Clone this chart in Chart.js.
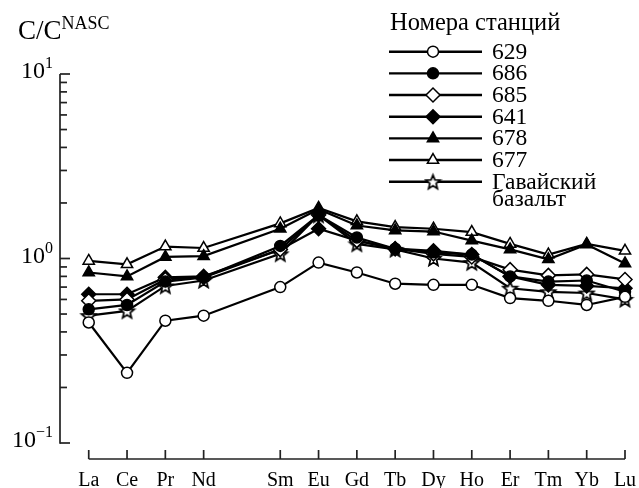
<!DOCTYPE html>
<html>
<head>
<meta charset="utf-8">
<script src="https://cdn.jsdelivr.net/npm/chart.js@4/dist/chart.umd.min.js"></script>
<style>
  html, body { margin: 0; padding: 0; background: #fff; }
  canvas { display: block; }
</style>
</head>
<body>
<canvas id="ree" width="639" height="488"></canvas>
<script>
// REE by atomic number; Pm (61) has no data and no tick
const elements = ['La', 'Ce', 'Pr', 'Nd', 'Sm', 'Eu', 'Gd', 'Tb', 'Dy', 'Ho', 'Er', 'Tm', 'Yb', 'Lu'];
const atomicNumbers = [57, 58, 59, 60, 62, 63, 64, 65, 66, 67, 68, 69, 70, 71];
const yMajorTicks = [0.1, 1, 10];
const yExponents = ['\u22121', '0', '1'];

// NASC-normalised concentrations per station
const st629 = [0.45, 0.24, 0.46, 0.49, 0.70, 0.95, 0.84, 0.73, 0.72, 0.72, 0.61, 0.59, 0.56, 0.62];
const st686 = [0.53, 0.56, 0.75, 0.79, 1.17, 1.72, 1.30, 1.13, 1.08, 1.05, 0.80, 0.75, 0.76, 0.66];
const st685 = [0.59, 0.60, 0.77, 0.79, 1.12, 1.72, 1.25, 1.13, 1.06, 1.02, 0.87, 0.81, 0.82, 0.77];
const st641 = [0.64, 0.64, 0.79, 0.80, 1.12, 1.45, 1.25, 1.13, 1.10, 1.05, 0.80, 0.72, 0.71, 0.69];
const st678 = [0.84, 0.80, 1.02, 1.03, 1.45, 1.85, 1.51, 1.42, 1.40, 1.25, 1.12, 0.99, 1.19, 0.94];
const st677 = [0.97, 0.93, 1.16, 1.14, 1.55, 1.88, 1.59, 1.48, 1.45, 1.39, 1.20, 1.05, 1.20, 1.10];
const hawaiiBasalt = [0.49, 0.52, 0.71, 0.76, 1.06, 1.72, 1.20, 1.12, 1.00, 0.95, 0.69, 0.66, 0.65, 0.60];

const seriesNames = ['629', '686', '685', '641', '678', '677', 'Гавайский\nбазальт'];
const seriesValues = [st629, st686, st685, st641, st678, st677, hawaiiBasalt];

const SERIF = '"Liberation Serif", "Times New Roman", serif';

// open five-pointed star marker
function makeStar(r, inner) {
  const s = Math.ceil(r * 2 + 4);
  const c = document.createElement('canvas');
  c.width = s; c.height = s;
  const g = c.getContext('2d');
  g.translate(s / 2, s / 2 + 0.8);
  g.beginPath();
  for (let i = 0; i < 10; i++) {
    const rad = i % 2 ? inner : r;
    const a = -Math.PI / 2 + i * Math.PI / 5;
    g.lineTo(rad * Math.cos(a), rad * Math.sin(a));
  }
  g.closePath();
  g.fillStyle = '#fff';
  g.fill();
  g.lineWidth = 1.7;
  g.strokeStyle = '#000';
  g.stroke();
  return c;
}
const starMarker = makeStar(7.5, 3.3);

const markerStyles = [
  { pointStyle: 'circle', fill: '#fff', radius: 5.5 },
  { pointStyle: 'circle', fill: '#000', radius: 5.5 },
  { pointStyle: 'rectRot', fill: '#fff', radius: 7 },
  { pointStyle: 'rectRot', fill: '#000', radius: 7 },
  { pointStyle: 'triangle', fill: '#000', radius: 6.5 },
  { pointStyle: 'triangle', fill: '#fff', radius: 6.5 },
  { pointStyle: starMarker, fill: '#fff', radius: 7.5 }
];

const datasets = seriesValues.map((vals, i) => ({
  label: seriesNames[i],
  data: atomicNumbers.map((z, j) => ({ x: z, y: vals[j] })),
  borderColor: '#000',
  borderWidth: 2.2,
  tension: 0,
  pointStyle: markerStyles[i].pointStyle,
  pointRadius: markerStyles[i].radius,
  pointBackgroundColor: markerStyles[i].fill,
  pointBorderColor: '#000',
  pointBorderWidth: 1.5,
  clip: false
}));

function drawSup(ctx, base, sup, x, baseline, baseSize, supSize, rise, align) {
  ctx.font = baseSize + 'px ' + SERIF;
  const wb = ctx.measureText(base).width;
  ctx.font = supSize + 'px ' + SERIF;
  const ws = ctx.measureText(sup).width;
  const left = align === 'right' ? x - wb - ws : x;
  ctx.textAlign = 'left';
  ctx.textBaseline = 'alphabetic';
  ctx.font = baseSize + 'px ' + SERIF;
  ctx.fillText(base, left, baseline);
  ctx.font = supSize + 'px ' + SERIF;
  ctx.fillText(sup, left + wb, baseline - rise);
}

// detached axes with inward ticks, drawn from the chart's own scales
const axesPlugin = {
  id: 'axes',
  beforeDatasetsDraw(chart) {
    const ctx = chart.ctx;
    const xs = chart.scales.x, ys = chart.scales.y;
    const ax = chart.chartArea.left;
    ctx.save();
    ctx.strokeStyle = '#222';
    ctx.fillStyle = '#000';
    ctx.lineWidth = 1.7;

    // y axis
    ctx.beginPath();
    ctx.moveTo(ax, ys.getPixelForValue(10));
    ctx.lineTo(ax, ys.getPixelForValue(0.1) + 0.8);
    ctx.stroke();
    for (let d = 0.1; d < 10; d *= 10) {
      for (let m = 1; m <= 9; m++) {
        const py = ys.getPixelForValue(d * m);
        const len = m === 1 ? 10 : 7;
        ctx.beginPath();
        ctx.moveTo(ax, py);
        ctx.lineTo(ax + len, py);
        ctx.stroke();
      }
    }
    const pyTop = ys.getPixelForValue(10);
    ctx.beginPath();
    ctx.moveTo(ax, pyTop);
    ctx.lineTo(ax + 10, pyTop);
    ctx.stroke();

    yMajorTicks.forEach((v, i) => {
      drawSup(ctx, '10', yExponents[i], 53, ys.getPixelForValue(v) + 4, 24, 16, 10, 'right');
    });

    // x axis
    const axisY = 459;
    ctx.beginPath();
    ctx.moveTo(xs.getPixelForValue(atomicNumbers[0]), axisY);
    ctx.lineTo(xs.getPixelForValue(atomicNumbers[atomicNumbers.length - 1]), axisY);
    ctx.stroke();
    ctx.font = '20px ' + SERIF;
    ctx.textAlign = 'center';
    ctx.textBaseline = 'alphabetic';
    atomicNumbers.forEach((z, i) => {
      const px = xs.getPixelForValue(z);
      ctx.beginPath();
      ctx.moveTo(px, axisY);
      ctx.lineTo(px, axisY - 9);
      ctx.stroke();
      ctx.fillText(elements[i], px, 486);
    });

    // axis title
    drawSup(ctx, 'C/C', 'NASC', 18, 39, 27, 18, 10, 'left');
    ctx.restore();
  },
  afterDraw(chart) {
    const ctx = chart.ctx;
    ctx.save();
    ctx.fillStyle = '#000';
    ctx.font = '24.5px ' + SERIF;
    ctx.textAlign = 'left';
    ctx.textBaseline = 'alphabetic';
    ctx.fillText('Номера станций', 390, 30);

    chart.data.datasets.forEach((ds, i) => {
      const cy = 51.7 + i * 21.67;
      ctx.strokeStyle = '#000';
      ctx.lineWidth = 2.4;
      ctx.beginPath();
      ctx.moveTo(389, cy);
      ctx.lineTo(482, cy);
      ctx.stroke();
      ctx.fillStyle = ds.pointBackgroundColor;
      ctx.lineWidth = ds.pointBorderWidth;
      Chart.helpers.drawPoint(ctx, {
        pointStyle: ds.pointStyle, radius: ds.pointRadius, rotation: 0, borderWidth: ds.pointBorderWidth
      }, 433, cy);
      ctx.fillStyle = '#000';
      ctx.font = '23.5px ' + SERIF;
      ds.label.split('\n').forEach((line, k) => {
        ctx.fillText(line, 492, cy + 7 + k * 17);
      });
    });
    ctx.restore();
  }
};

new Chart(document.getElementById('ree'), {
  type: 'line',
  data: { datasets },
  options: {
    responsive: false,
    animation: false,
    layout: { padding: { left: 60, top: 74, right: 14, bottom: 45 } },
    plugins: { legend: { display: false }, tooltip: { enabled: false } },
    scales: {
      x: { type: 'linear', display: false, min: 56.25, max: 71 },
      y: { type: 'logarithmic', display: false, min: 0.1, max: 10 }
    }
  },
  plugins: [axesPlugin]
});
</script>
</body>
</html>
